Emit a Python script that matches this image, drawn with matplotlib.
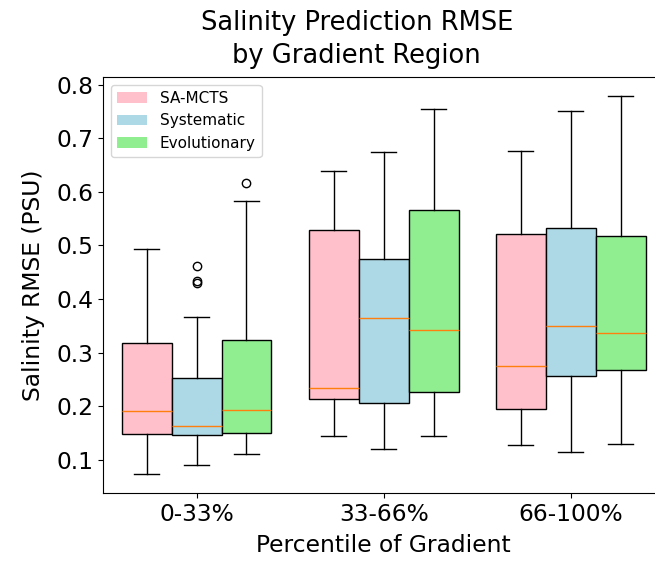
import matplotlib
matplotlib.use("Agg")
import matplotlib.pyplot as plt
from matplotlib.patches import Patch

# percentile groups and methods
regions = ["0-33%", "33-66%", "66-100%"]
methods = ["SA-MCTS", "Systematic", "Evolutionary"]
colors = ["pink", "lightblue", "lightgreen"]

# box statistics, one row per method, one value per region
whislo = [[0.073, 0.144, 0.128],
          [0.090, 0.120, 0.114],
          [0.111, 0.144, 0.130]]
q1 = [[0.148, 0.214, 0.194],
      [0.146, 0.205, 0.257],
      [0.150, 0.227, 0.267]]
med = [[0.190, 0.233, 0.275],
       [0.162, 0.365, 0.350],
       [0.193, 0.342, 0.336]]
q3 = [[0.317, 0.529, 0.522],
      [0.252, 0.474, 0.533],
      [0.323, 0.566, 0.518]]
whishi = [[0.494, 0.639, 0.676],
          [0.366, 0.674, 0.751],
          [0.582, 0.754, 0.779]]
fliers = [[[], [], []],
          [[0.461, 0.434, 0.430], [], []],
          [[0.616], [], []]]

fig = plt.figure(figsize=(6.55, 5.61), dpi=100)
ax = fig.add_axes([0.1573, 0.1212, 0.857, 0.7415])

w = 0.8 / 3
for m in range(3):
    stats = []
    for r in range(3):
        stats.append(dict(whislo=whislo[m][r], q1=q1[m][r], med=med[m][r],
                          q3=q3[m][r], whishi=whishi[m][r], fliers=fliers[m][r]))
    pos = [r + 1 + (m - 1) * w for r in range(3)]
    bp = ax.bxp(stats, positions=pos, widths=w, patch_artist=True,
                manage_ticks=False)
    for b in bp["boxes"]:
        b.set_facecolor(colors[m])

ax.set_xticks([1, 2, 3])
ax.set_xticklabels(regions)
ax.set_xlim(0.5, 3.5)
ax.tick_params(labelsize=16.8)
ax.set_xlabel("Percentile of Gradient", fontsize=16.8, labelpad=6)
ax.set_ylabel("Salinity RMSE (PSU)", fontsize=16.8, labelpad=8)
ax.set_title("Salinity Prediction RMSE\nby Gradient Region", fontsize=18.5,
             x=0.452, linespacing=1.35, pad=10)

handles = [Patch(facecolor=c, label=l) for c, l in zip(colors, methods)]
ax.legend(handles=handles, loc="upper left", fontsize=11)

fig.savefig("out.png", dpi=100)
